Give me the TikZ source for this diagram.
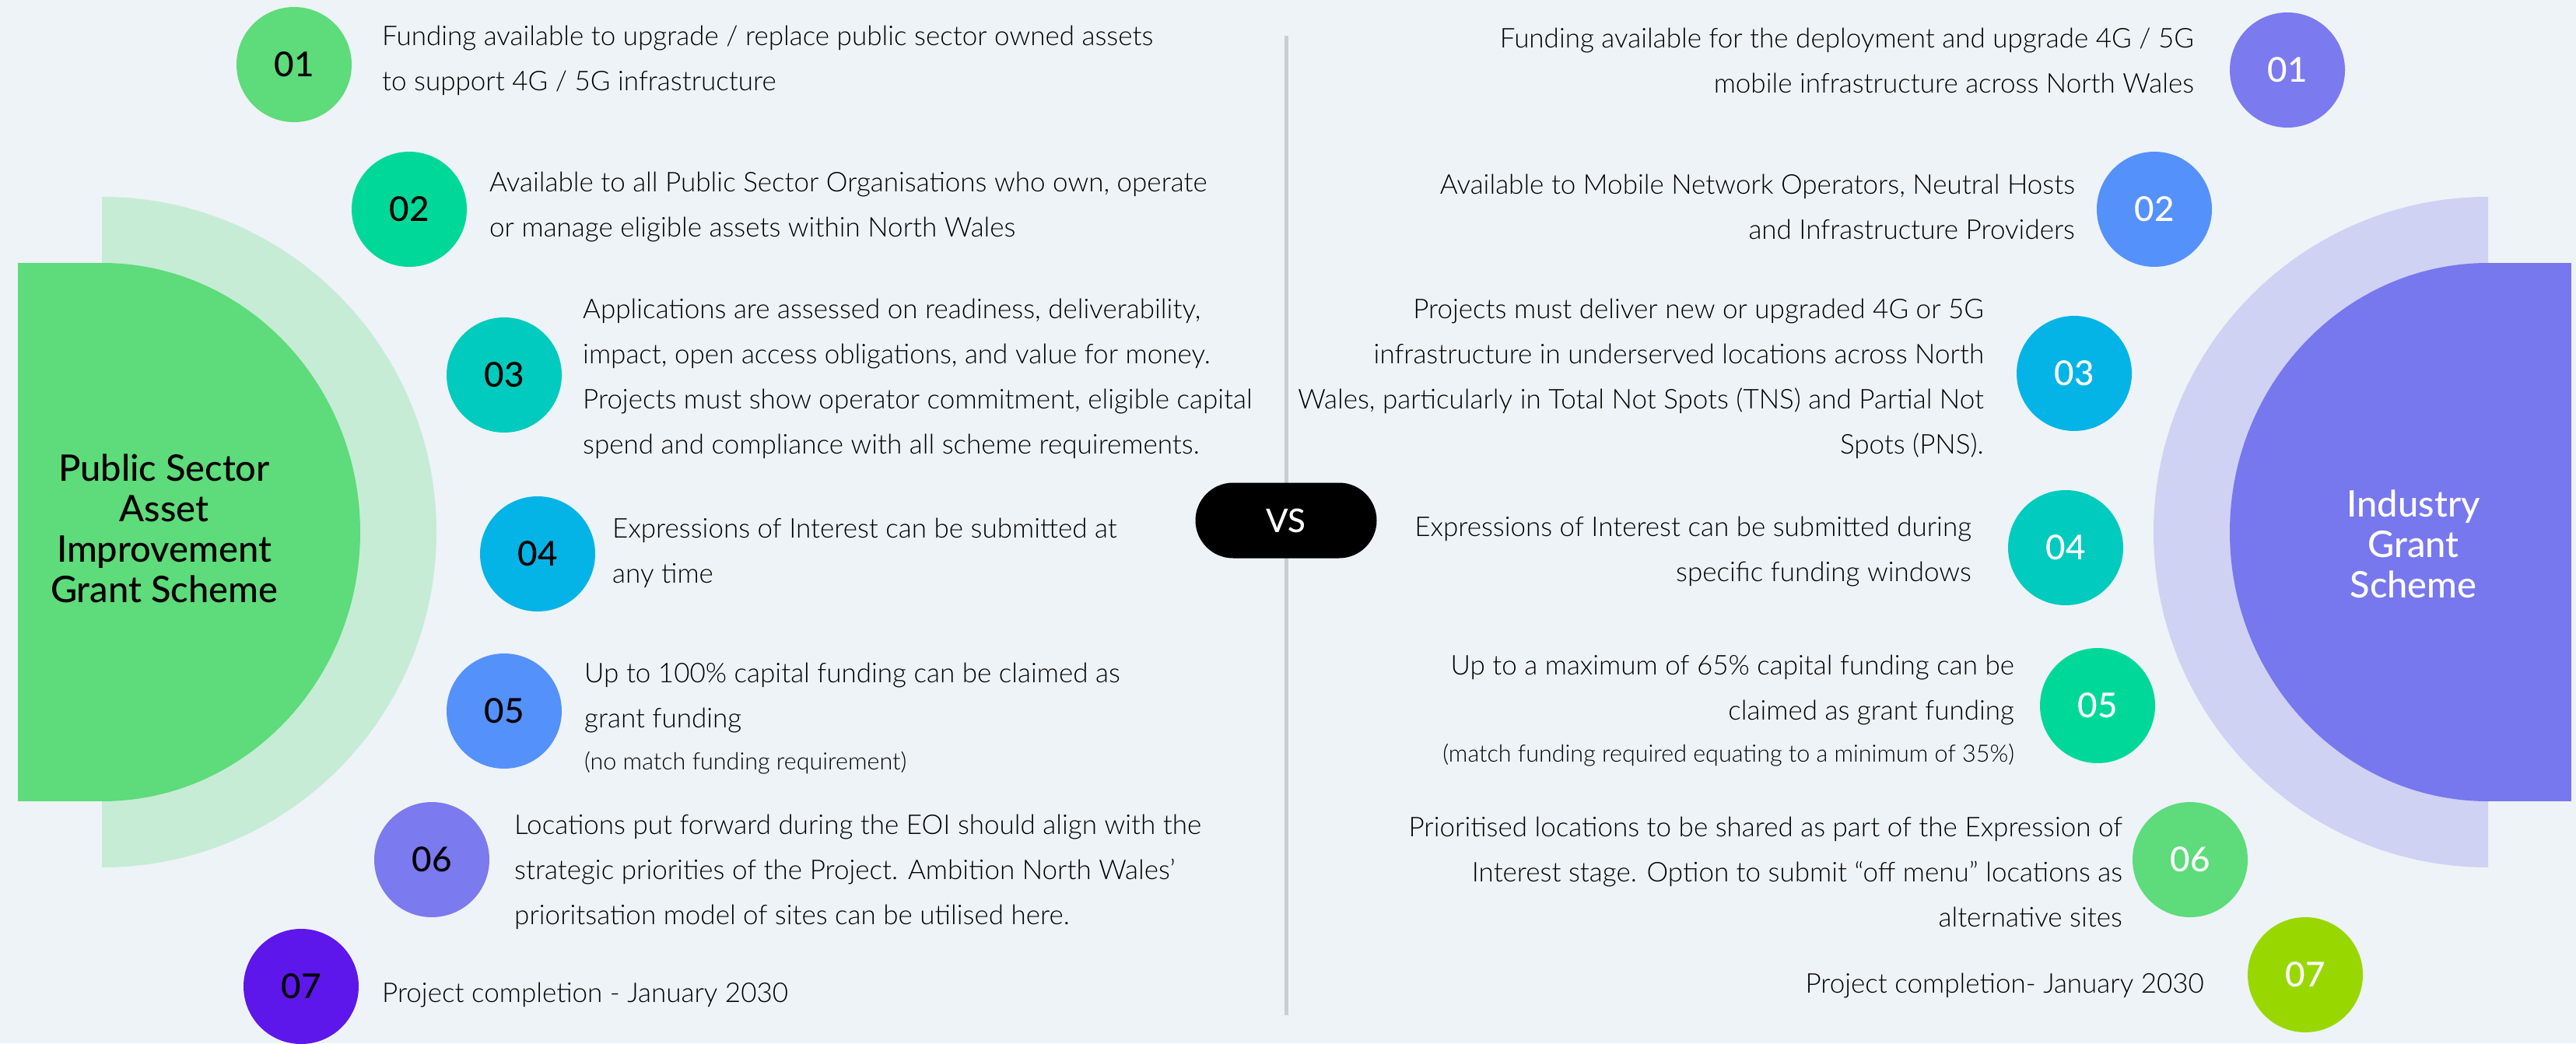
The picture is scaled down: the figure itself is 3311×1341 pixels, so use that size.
\documentclass[tikz,border=0pt]{standalone}
\usepackage{fontspec}
\setmainfont{Lato}[UprightFont=* Light, BoldFont=* Medium]
\newfontfamily\medfont{Lato Medium}
\definecolor{bgc}{HTML}{EEF3F7}
\definecolor{dgreen}{HTML}{5EDB7A}
\definecolor{lgreen}{HTML}{C6ECD5}
\definecolor{dpurple}{HTML}{7777EE}
\definecolor{lpurple}{HTML}{CFD2F2}
\definecolor{ctwo}{HTML}{00D89A}
\definecolor{cthree}{HTML}{00CBBE}
\definecolor{cfour}{HTML}{04B4E6}
\definecolor{cfive}{HTML}{5591FB}
\definecolor{csix}{HTML}{7B7AEE}
\definecolor{csevL}{HTML}{5E17EB}
\definecolor{csevR}{HTML}{98D800}
\definecolor{sepc}{HTML}{C7CFD3}
\tikzset{
  num/.style={circle, minimum size=148pt, inner sep=0pt, font=\medfont\fontsize{44}{44}\selectfont},
  numL/.style={num, text=black},
  numR/.style={num, text=white},
  body/.style={inner sep=0pt, font=\fontsize{35}{58}\selectfont},
  bodyL/.style={body, anchor=west, align=left},
  bodyR/.style={body, anchor=east, align=right},
  note/.style={inner sep=0pt, font=\fontsize{30.5}{36}\selectfont},
  title/.style={inner sep=0pt, align=center, font=\medfont\fontsize{47}{52}\selectfont},
}
\begin{document}
\begin{tikzpicture}[x=1pt, y=-1pt]
\fill[bgc] (0,0) rectangle (3311,1341);
\useasboundingbox (0,0) rectangle (3311,1341);
% left shapes
\begin{scope}
  \clip (131,0) rectangle (1000,1341);
  \fill[lgreen] (131,684) ellipse[x radius=430, y radius=431];
  \fill[dgreen] (131,684) ellipse[x radius=332, y radius=346];
\end{scope}
\fill[dgreen] (23,338) rectangle (131.5,1030);
% right shapes
\begin{scope}
  \clip (2300,0) rectangle (3198,1341);
  \fill[lpurple] (3198,684) ellipse[x radius=430, y radius=431];
  \fill[dpurple] (3198,684) ellipse[x radius=332, y radius=346];
\end{scope}
\fill[dpurple] (3197.5,338) rectangle (3305,1030);
% separator
\coordinate (septop) at (1653,46);
\coordinate (sepbot) at (1653,1305);
\draw[sepc, line width=5pt] (septop) -- (sepbot);
\node[fill=black, text=white, minimum width=233pt, minimum height=97pt, rounded corners=48.5pt, inner sep=0pt, font=\medfont\fontsize{42}{42}\selectfont] (vs) at (1653,669) {VS};
% titles
\node[title, text=black] (titleL) at (211,679) {Public Sector\\Asset\\Improvement\\Grant Scheme};
\node[title, text=white] (titleR) at (3102,699) {Industry\\Grant\\Scheme};
% left circles
\node[numL, fill=dgreen] (l1) at (378,83) {01};
\node[numL, fill=ctwo] (l2) at (526,269) {02};
\node[numL, fill=cthree] (l3) at (648,482) {03};
\node[numL, fill=cfour] (l4) at (691,712) {04};
\node[numL, fill=cfive] (l5) at (648,914) {05};
\node[numL, fill=csix] (l6) at (555,1105) {06};
\node[numL, fill=csevL] (l7) at (387,1268) {07};
% right circles
\node[numR, fill=csix] (r1) at (2940,90) {01};
\node[numR, fill=cfive] (r2) at (2769,269) {02};
\node[numR, fill=cfour] (r3) at (2666,480) {03};
\node[numR, fill=cthree] (r4) at (2655,704) {04};
\node[numR, fill=ctwo] (r5) at (2696,907) {05};
\node[numR, fill=dgreen] (r6) at (2815,1105) {06};
\node[numR, fill=csevR] (r7) at (2963,1253) {07};
% left texts
\node[bodyL] (tl1) at (491,78) {Funding available to upgrade / replace public sector owned assets\\to support 4G / 5G infrastructure};
\node[bodyL] (tl2) at (629,266) {Available to all Public Sector Organisations who own, operate\\or manage eligible assets within North Wales};
\node[bodyL] (tl3) at (749,487) {Applications are assessed on readiness, deliverability,\\impact, open access obligations, and value for money.\\Projects must show operator commitment, eligible capital\\spend and compliance with all scheme requirements.};
\node[bodyL] (tl4) at (787,711) {Expressions of Interest can be submitted at\\any time};
\node[bodyL] (tl5) at (751,897) {Up to 100\% capital funding can be claimed as\\grant funding};
\node[note, anchor=west] (nl5) at (751,981) {(no match funding requirement)};
\node[bodyL] (tl6) at (661,1121) {Locations put forward during the EOI should align with the\\strategic priorities of the Project. Ambition North Wales’\\prioritsation model of sites can be utilised here.};
\node[bodyL] (tl7) at (491,1279) {Project completion - January 2030};
% right texts
\node[bodyR] (tr1) at (2820,78) {Funding available for the deployment and upgrade 4G / 5G\\mobile infrastructure across North Wales};
\node[bodyR] (tr2) at (2667,266) {Available to Mobile Network Operators, Neutral Hosts\\and Infrastructure Providers};
\node[bodyR] (tr3) at (2550,487) {Projects must deliver new or upgraded 4G or 5G\\infrastructure in underserved locations across North\\Wales, particularly in Total Not Spots (TNS) and Partial Not\\Spots (PNS).};
\node[bodyR] (tr4) at (2534,709) {Expressions of Interest can be submitted during\\specific funding windows};
\node[bodyR] (tr5) at (2589,887) {Up to a maximum of 65\% capital funding can be\\claimed as grant funding};
\node[note, anchor=east] (nr5) at (2589,971) {(match funding required equating to a minimum of 35\%)};
\node[bodyR] (tr6) at (2728,1121) {Prioritised locations to be shared as part of the Expression of\\Interest stage. Option to submit “off menu” locations as\\alternative sites};
\node[bodyR] (tr7) at (2833,1267) {Project completion- January 2030};
\end{tikzpicture}
\end{document}
